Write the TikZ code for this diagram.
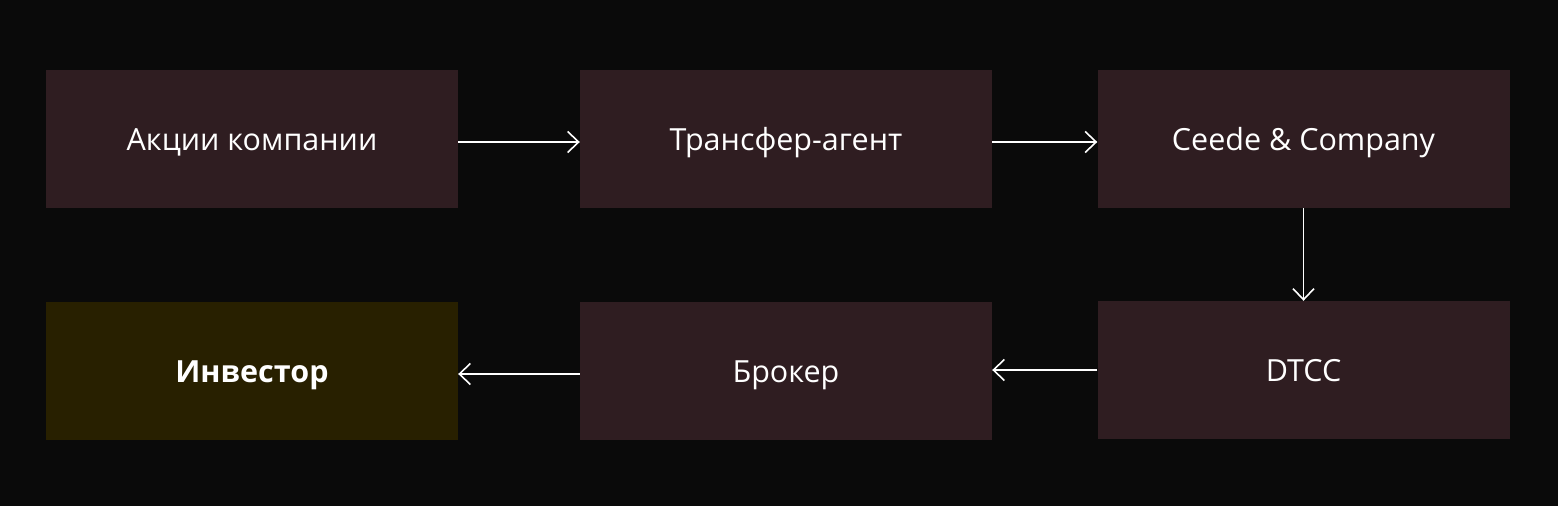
\documentclass[tikz,border=0pt]{standalone}
\usepackage{fontspec}
\setmainfont{Open Sans}
\usetikzlibrary{arrows.meta}
\definecolor{bg}{HTML}{0A0A0A}
\definecolor{boxc}{HTML}{2F1D21}
\definecolor{invc}{HTML}{282000}
\begin{document}
\begin{tikzpicture}[x=1pt,y=-1pt,
  blk/.style={fill=boxc,draw=none,minimum width=412pt,minimum height=138pt,inner sep=0pt,text height=22pt,text depth=0pt,text=white,font=\fontsize{30.5}{36}\selectfont},
  arr/.style={draw=white,line width=1.6pt,-{Straight Barb[length=11pt,width=21pt,line width=1.6pt]}}]
\fill[bg] (0,0) rectangle (1558,506);
\useasboundingbox (0,0) rectangle (1558,506);
\node[blk] (A) at (252,139) {Акции компании};
\node[blk] (B) at (786,139) {Трансфер-агент};
\node[blk] (C) at (1303.5,139) {Ceede \& Company};
\node[blk] (D) at (1303.5,370) {DTCC};
\node[blk] (E) at (786,371) {Брокер};
\node[blk,fill=invc,font=\fontsize{30.5}{36}\selectfont\bfseries] (F) at (252,371) {Инвестор};
\draw[arr] ([yshift=-3pt]A.east) -- ([yshift=-3pt]B.west);
\draw[arr] ([yshift=-3pt]B.east) -- ([yshift=-3pt]C.west);
\draw[arr] (C.south) -- (D.north);
\draw[arr] (D.west) -- (D.west -| E.east);
\draw[arr] ([yshift=-3pt]E.west) -- ([yshift=-3pt]F.east);
\end{tikzpicture}
\end{document}
